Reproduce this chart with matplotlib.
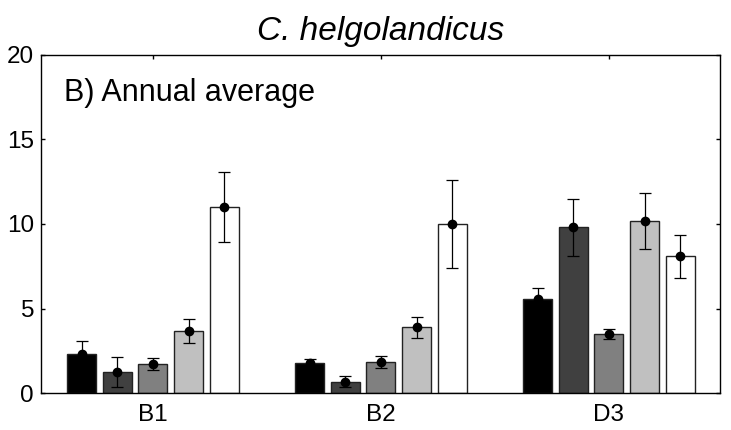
import matplotlib
matplotlib.use("Agg")
import matplotlib.pyplot as plt
import numpy as np

plt.rcParams['font.family'] = ['Liberation Sans', 'DejaVu Sans']

stations = ["B1", "B2", "D3"]
series_colors = ["#000000", "#404040", "#808080", "#c0c0c0", "#ffffff"]
# values per series (rows) across stations (cols)
means = [
    [2.3, 1.75, 5.55],
    [1.25, 0.68, 9.8],
    [1.7, 1.85, 3.5],
    [3.65, 3.88, 10.2],
    [11.0, 10.0, 8.1],
]
errors = [
    [0.8, 0.28, 0.68],
    [0.9, 0.3, 1.7],
    [0.35, 0.35, 0.3],
    [0.7, 0.63, 1.66],
    [2.05, 2.6, 1.27],
]
yticks = [0, 5, 10, 15, 20]
title = "C. helgolandicus"
panel_label = "B) Annual average"

fig = plt.figure(figsize=(7.31, 4.30), dpi=100)
ax = fig.add_axes([41/731, 1-393/430, (720-41)/731, (393-55)/430])

x = np.arange(1, len(stations)+1)
n = len(means)
step = 0.156
width = 0.127
for i in range(n):
    xs = x + (i - (n-1)/2) * step
    ax.bar(xs, means[i], width=width, color=series_colors[i],
           edgecolor="#222222", linewidth=1.0, zorder=2)
    ax.errorbar(xs, means[i], yerr=errors[i], fmt='o', color='#000000',
                ecolor='#000000', elinewidth=0.9, capsize=4, capthick=0.9,
                markersize=6, zorder=3)

ax.set_xlim(0.509, 3.487)
ax.set_ylim(0, 20)
ax.set_yticks(yticks)
ax.set_xticks(x)
ax.set_xticklabels(stations)
ax.tick_params(direction='in', length=3, width=1, top=True, right=True,
               labelsize=17.5)
ax.tick_params(axis='x', pad=8)
ax.tick_params(axis='y', pad=5)
for s in ax.spines.values():
    s.set_linewidth(1.0)

ax.set_title(title, fontsize=24, style='italic', pad=11)
ax.text(23/679, 0.864, panel_label, transform=ax.transAxes, fontsize=22,
        va='baseline', ha='left')

fig.savefig("out.png", dpi=100)
